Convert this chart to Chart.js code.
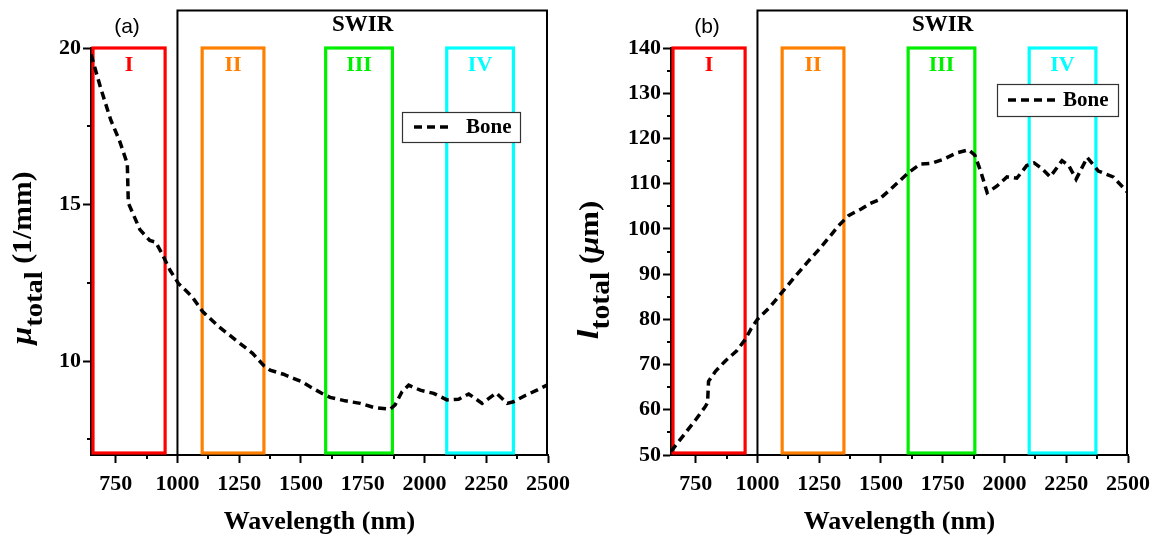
<!DOCTYPE html>
<html>
<head>
<meta charset="utf-8">
<script src="https://cdn.jsdelivr.net/npm/chart.js@4.4.1/dist/chart.umd.min.js"></script>
<style>
  html, body { margin: 0; padding: 0; background: #fff; }
  #wrap { position: relative; width: 1154px; height: 539px; overflow: hidden; }
  .panel { position: absolute; top: 0; width: 577px; height: 539px; }
</style>
</head>
<body>
<div id="wrap">
  <div class="panel" style="left:0"><canvas id="chartA" width="577" height="539"></canvas></div>
  <div class="panel" style="left:577px"><canvas id="chartB" width="577" height="539"></canvas></div>
</div>
<script>
// ---- data: (a) total attenuation coefficient of bone ----
const wavelengthA = [650, 690, 730, 765, 797, 801, 848, 888, 912, 936, 970, 1004, 1059, 1102, 1167, 1236, 1304, 1350, 1375, 1429, 1469, 1503, 1537, 1584, 1618, 1679, 1740, 1794, 1861, 1881, 1909, 1936, 1983, 2037, 2091, 2138, 2179, 2233, 2290, 2335, 2360, 2410, 2455, 2500];
const muTotal     = [19.8, 18.7, 17.7, 17.05, 16.3, 15.05, 14.2, 13.85, 13.8, 13.45, 12.9, 12.48, 12.06, 11.58, 11.1, 10.67, 10.25, 9.85, 9.71, 9.58, 9.45, 9.34, 9.18, 8.97, 8.84, 8.73, 8.65, 8.52, 8.46, 8.6, 9.02, 9.23, 9.07, 8.97, 8.76, 8.78, 8.95, 8.65, 8.98, 8.65, 8.7, 8.91, 9.07, 9.25];

// ---- data: (b) total attenuation length of bone ----
const wavelengthB = [650, 700, 750, 790, 798, 802, 830, 870, 915, 950, 975, 1000, 1050, 1100, 1150, 1200, 1250, 1300, 1325, 1370, 1420, 1455, 1490, 1536, 1575, 1615, 1658, 1705, 1753, 1807, 1855, 1880, 1905, 1930, 1970, 2010, 2050, 2090, 2120, 2150, 2185, 2233, 2260, 2290, 2335, 2380, 2440, 2500];
const lTotal      = [50.8, 54.3, 57.8, 60.8, 61.6, 66.3, 68.5, 70.8, 73.0, 75.5, 78.0, 80.0, 82.7, 86.0, 89.3, 92.5, 95.5, 98.8, 100.5, 103.0, 104.4, 105.6, 106.4, 108.6, 110.6, 112.6, 114.3, 114.5, 115.4, 116.8, 117.5, 116.3, 112.5, 108.0, 109.5, 111.5, 111.2, 114.0, 114.6, 113.4, 111.5, 115.1, 114.0, 111.0, 115.8, 112.8, 111.5, 108.0];

// ---- optical windows and SWIR band ----
const windowNames  = ['I', 'II', 'III', 'IV'];
const windowColors = ['#ff0000', '#ff8000', '#00ee00', '#00ffff'];
const windowsA = [[650, 950], [1100, 1350], [1600, 1870], [2090, 2360]];
const windowsB = [[650, 950], [1100, 1350], [1610, 1880], [2100, 2370]];
const swirRange = [1000, 2500];
const swirTopA = 21.2;
const swirTopB = 148.3;

// ---- axis ticks ----
const xTicks      = [750, 1000, 1250, 1500, 1750, 2000, 2250, 2500];
const xMinorTicks = [875, 1125, 1375, 1625, 1875, 2125, 2375];
const yTicksA      = [10, 15, 20];
const yMinorTicksA = [7.5, 12.5, 17.5];
const yTicksB      = [50, 60, 70, 80, 90, 100, 110, 120, 130, 140];
const yMinorTicksB = [55, 65, 75, 85, 95, 105, 115, 125, 135];

const SERIF = '"Liberation Serif", "Times New Roman", Times, serif';
const SANS  = '"Liberation Sans", Arial, Helvetica, sans-serif';

// Window frames, SWIR frame and their labels (under the curve)
const bandsPlugin = {
  id: 'bands',
  beforeDatasetsDraw(chart, args, o) {
    const { ctx, scales: { x, y } } = chart;
    const bottom = y.getPixelForValue(y.min);
    ctx.save();
    // SWIR frame
    const sx0 = x.getPixelForValue(swirRange[0]);
    const sx1 = x.getPixelForValue(swirRange[1]);
    const sTop = y.getPixelForValue(o.swirTop);
    ctx.strokeStyle = '#000';
    ctx.lineWidth = 2;
    ctx.beginPath();
    ctx.moveTo(sx0, bottom);
    ctx.lineTo(sx0, sTop);
    ctx.lineTo(sx1 - 1, sTop);
    ctx.lineTo(sx1 - 1, bottom);
    ctx.stroke();
    ctx.fillStyle = '#000';
    ctx.font = 'bold 23px ' + SERIF;
    ctx.textAlign = 'center';
    ctx.textBaseline = 'middle';
    ctx.fillText('SWIR', (sx0 + sx1) / 2, sTop + 15);
    // panel tag
    ctx.font = '21px ' + SANS;
    ctx.fillText(o.tag, o.tagX, 27);
    // windows
    const top = y.getPixelForValue(y.max);
    ctx.lineWidth = 3.2;
    o.windows.forEach((w, i) => {
      let x0 = x.getPixelForValue(w[0]);
      const x1 = x.getPixelForValue(w[1]);
      if (w[0] === x.min) x0 += 2;
      ctx.strokeStyle = windowColors[i];
      ctx.strokeRect(x0, top, x1 - x0, bottom - 2 - top);
      ctx.fillStyle = windowColors[i];
      ctx.font = 'bold 22px ' + SERIF;
      ctx.fillText(windowNames[i], (x0 + x1) / 2, top + 17);
    });
    ctx.restore();
  }
};

// Legend box, minor ticks and the rotated y-axis title
const overlayPlugin = {
  id: 'overlay',
  afterDraw(chart, args, o) {
    const { ctx, scales: { x, y } } = chart;
    ctx.save();
    // minor ticks
    ctx.strokeStyle = '#000';
    ctx.lineWidth = 2;
    ctx.beginPath();
    const base = y.getPixelForValue(y.min);
    xMinorTicks.forEach(v => {
      const px = Math.round(x.getPixelForValue(v));
      ctx.moveTo(px, base);
      ctx.lineTo(px, base + 4);
    });
    const left = x.getPixelForValue(x.min);
    o.yMinor.forEach(v => {
      const py = Math.round(y.getPixelForValue(v));
      ctx.moveTo(left, py);
      ctx.lineTo(left - 4, py);
    });
    ctx.stroke();

    // legend
    const L = o.legend;
    ctx.fillStyle = '#fff';
    ctx.fillRect(L.x, L.y, L.w, L.h);
    ctx.strokeStyle = '#333';
    ctx.lineWidth = 1.2;
    ctx.strokeRect(L.x + 0.5, L.y + 0.5, L.w, L.h);
    ctx.strokeStyle = '#000';
    ctx.lineWidth = 3.5;
    ctx.setLineDash([8, 5]);
    ctx.beginPath();
    ctx.moveTo(L.x + L.s0, L.y + L.h / 2);
    ctx.lineTo(L.x + L.s1, L.y + L.h / 2);
    ctx.stroke();
    ctx.setLineDash([]);
    ctx.fillStyle = '#000';
    ctx.font = 'bold 21px ' + SERIF;
    ctx.textAlign = 'left';
    ctx.textBaseline = 'middle';
    ctx.fillText('Bone', L.x + L.t, L.y + L.h / 2 + 1);

    // rotated y-axis title built from styled pieces
    const T = o.yTitle;
    ctx.translate(T.x, T.y);
    ctx.rotate(-Math.PI / 2);
    ctx.scale(1.1, 1);
    ctx.textBaseline = 'alphabetic';
    let total = 0;
    T.parts.forEach(p => { ctx.font = p.font; total += ctx.measureText(p.text).width; });
    let cx = -total / 2;
    T.parts.forEach(p => {
      ctx.font = p.font;
      ctx.fillText(p.text, cx, p.dy || 0);
      cx += ctx.measureText(p.text).width;
    });
    ctx.restore();
  }
};

function makeChart(id, xs, ys, yMin, yMax, yTicks, opts) {
  const points = xs.map((v, i) => ({ x: v, y: ys[i] }));
  return new Chart(document.getElementById(id), {
    type: 'line',
    data: {
      datasets: [{
        label: 'Bone',
        data: points,
        borderColor: '#000',
        borderWidth: 3.5,
        borderDash: [8, 5],
        pointRadius: 0,
        tension: 0,
        fill: false
      }]
    },
    options: {
      responsive: false,
      animation: false,
      devicePixelRatio: 1,
      layout: { padding: { top: 48, right: opts.padRight, bottom: 0, left: 0 } },
      plugins: {
        legend: { display: false },
        tooltip: { enabled: false },
        bands: { windows: opts.windows, swirTop: opts.swirTop, tag: opts.tag, tagX: opts.tagX },
        overlay: { legend: opts.legend, yMinor: opts.yMinor, yTitle: opts.yTitle }
      },
      scales: {
        x: {
          type: 'linear',
          min: 650,
          max: 2500,
          afterBuildTicks: s => { s.ticks = xTicks.map(v => ({ value: v })); },
          afterFit: s => { s.height = 84; s.paddingLeft = 0; s.paddingRight = 0; },
          border: { display: true, color: '#000', width: 2 },
          grid: { display: true, drawOnChartArea: false, drawTicks: true, tickLength: 8, tickWidth: 2, tickColor: '#000' },
          ticks: {
            color: '#000',
            font: { family: SERIF, size: 22, weight: 'bold' },
            padding: 8,
            maxRotation: 0,
            autoSkip: false,
            callback: v => String(v)
          },
          title: {
            display: true,
            text: 'Wavelength (nm)',
            color: '#000',
            font: { family: SERIF, size: 26, weight: 'bold' },
            padding: { top: 0, bottom: 1 }
          }
        },
        y: {
          type: 'linear',
          min: yMin,
          max: yMax,
          afterBuildTicks: s => { s.ticks = yTicks.map(v => ({ value: v })); },
          afterFit: s => { s.width = opts.yWidth; s.paddingTop = 0; s.paddingBottom = 0; },
          border: { display: true, color: '#000', width: 2 },
          grid: { display: true, drawOnChartArea: false, drawTicks: true, tickLength: 8, tickWidth: 2, tickColor: '#000' },
          ticks: {
            color: '#000',
            font: { family: SERIF, size: 22, weight: 'bold' },
            padding: 2,
            autoSkip: false,
            callback: v => String(v)
          }
        }
      }
    },
    plugins: [bandsPlugin, overlayPlugin]
  });
}

makeChart('chartA', wavelengthA, muTotal, 7, 20, yTicksA, {
  padRight: 29,
  yWidth: 91,
  windows: windowsA,
  swirTop: swirTopA,
  tag: '(a)',
  tagX: 127,
  yMinor: yMinorTicksA,
  legend: { x: 402, y: 112, w: 118, h: 30, s0: 12, s1: 50, t: 64 },
  yTitle: {
    x: 31, y: 258,
    parts: [
      { text: 'μ', font: 'italic bold 29px ' + SERIF },
      { text: 'total', font: 'bold 26px ' + SERIF, dy: 11 },
      { text: ' (1/mm)', font: 'bold 27px ' + SERIF }
    ]
  }
});

makeChart('chartB', wavelengthB, lTotal, 50, 140, yTicksB, {
  padRight: 26,
  yWidth: 94,
  windows: windowsB,
  swirTop: swirTopB,
  tag: '(b)',
  tagX: 130,
  yMinor: yMinorTicksB,
  legend: { x: 420, y: 84, w: 121, h: 32, s0: 11, s1: 63, t: 66 },
  yTitle: {
    x: 21, y: 270,
    parts: [
      { text: 'l', font: 'italic bold 32px ' + SERIF },
      { text: 'total', font: 'bold 27px ' + SERIF, dy: 11 },
      { text: ' (', font: 'bold 28px ' + SERIF },
      { text: 'μ', font: 'italic bold 28px ' + SERIF },
      { text: 'm)', font: 'bold 28px ' + SERIF }
    ]
  }
});
</script>
</body>
</html>
